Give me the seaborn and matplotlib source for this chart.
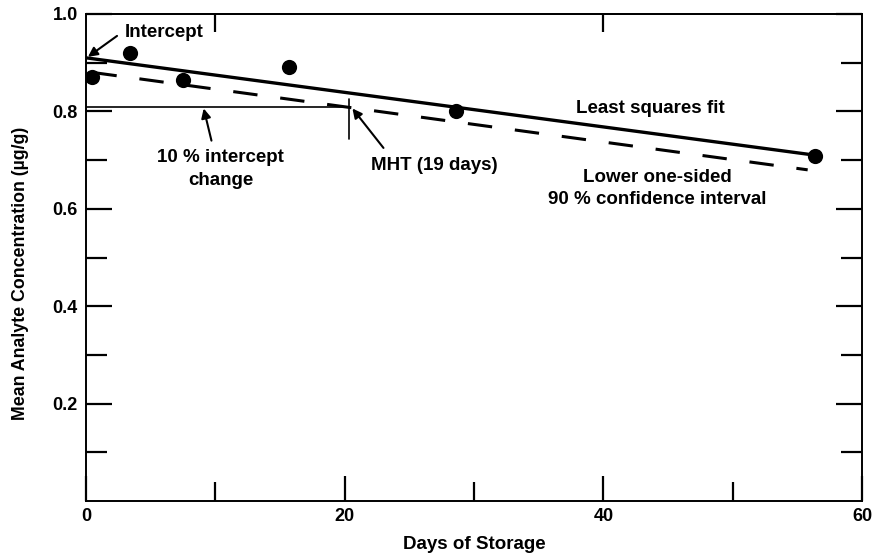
import matplotlib
matplotlib.use("Agg")
import matplotlib.pyplot as plt
import seaborn as sns
from matplotlib.ticker import FixedLocator

# Mean analyte concentration at each storage time
days = [0.5, 3.4, 7.5, 15.7, 28.6, 56.4]
conc = [0.871, 0.920, 0.864, 0.891, 0.801, 0.709]

# Least squares fit line
fit_days = [0.0, 56.4]
fit_conc = [0.910, 0.710]

# Lower one-sided 90 % confidence limit
ci_days = [0.5, 55.8]
ci_conc = [0.880, 0.680]

# 10 % intercept change level and maximum holding time marker
change_level = 0.81
mht_day = 20.3
mht_mark = [0.744, 0.826]

x_major = [0, 20, 40, 60]
x_minor = [10, 30, 50]
x_top = [10, 40]
y_major = [0.2, 0.4, 0.6, 0.8, 1.0]
y_minor = [0.1, 0.3, 0.5, 0.7, 0.9]

sns.set_theme(style="ticks")
plt.rcParams["font.family"] = ["Liberation Sans", "DejaVu Sans"]
plt.rcParams["font.weight"] = "bold"
plt.rcParams["axes.labelweight"] = "bold"

W, H = 875, 553
fig = plt.figure(figsize=(W / 100, H / 100), dpi=100)
ax = fig.add_axes([86 / W, 1 - 501 / H, 776 / W, 487 / H])

ink = "black"
fs = 13.5

sns.lineplot(x=fit_days, y=fit_conc, ax=ax, color=ink, lw=2.4, zorder=2)
sns.lineplot(x=ci_days, y=ci_conc, ax=ax, color=ink, lw=2.2,
             linestyle=(0, (8, 7.5)), zorder=2)
sns.lineplot(x=[0, mht_day], y=[change_level, change_level], ax=ax,
             color=ink, lw=1.2, zorder=2)
sns.lineplot(x=[mht_day, mht_day], y=mht_mark, ax=ax, color=ink, lw=1.2,
             estimator=None, sort=False, zorder=2)
sns.scatterplot(x=days, y=conc, ax=ax, s=120, color=ink, edgecolor=ink,
                linewidth=0, zorder=3)

ax.set_xlim(0, 60)
ax.set_ylim(0, 1.0)

ax.xaxis.set_major_locator(FixedLocator(x_major))
ax.xaxis.set_minor_locator(FixedLocator(x_minor))
ax.yaxis.set_major_locator(FixedLocator(y_major))
ax.yaxis.set_minor_locator(FixedLocator(y_minor))
ax.set_xticklabels([str(v) for v in x_major])
ax.set_yticklabels([f"{v:.1f}" for v in y_major])

ax.tick_params(axis="both", which="both", direction="in", colors=ink,
               width=1.6, labelsize=13)
ax.tick_params(axis="y", which="both", right=True, pad=6)
ax.tick_params(axis="y", which="major", length=19)
ax.tick_params(axis="y", which="minor", length=15)
ax.tick_params(axis="x", which="major", length=18, pad=5)
ax.tick_params(axis="x", which="minor", length=14)

top = ax.secondary_xaxis("top")
top.set_xticks(x_top)
top.set_xticklabels([])
top.tick_params(direction="in", length=13, width=1.6, colors=ink)
top.spines["top"].set_linewidth(1.4)

for side in ["left", "right", "top", "bottom"]:
    ax.spines[side].set_visible(True)
    ax.spines[side].set_color(ink)
    ax.spines[side].set_linewidth(1.4)

ax.set_xlabel("Days of Storage", fontsize=fs, color=ink)
ax.set_ylabel("Mean Analyte Concentration (\u00b5g/g)", fontsize=12.8, color=ink)
ax.xaxis.set_label_coords(0.5, -0.071)
ax.yaxis.set_label_coords(-0.073, 0.468)

arrow = dict(arrowstyle="-|>", color=ink, lw=1.5, mutation_scale=14,
             shrinkA=0, shrinkB=0)

ax.annotate("", xy=(0.15, 0.912), xytext=(2.4, 0.955), arrowprops=arrow)
ax.text(3.0, 0.962, "Intercept", fontsize=fs, va="center", ha="left", color=ink)

ax.annotate("", xy=(9.1, 0.806), xytext=(9.7, 0.740), arrowprops=arrow)
ax.text(10.4, 0.681, "10 % intercept\nchange", fontsize=fs, va="center",
        ha="center", color=ink, linespacing=1.45)

ax.annotate("", xy=(20.6, 0.806), xytext=(23.0, 0.725), arrowprops=arrow)
ax.text(26.9, 0.688, "MHT (19 days)", fontsize=fs, va="center", ha="center",
        color=ink)

ax.text(43.6, 0.805, "Least squares fit", fontsize=fs, va="center",
        ha="center", color=ink)
ax.text(44.2, 0.642, "Lower one-sided\n90 % confidence interval", fontsize=fs,
        va="center", ha="center", color=ink, linespacing=1.4)

fig.savefig("out.png", dpi=100, facecolor="white")
